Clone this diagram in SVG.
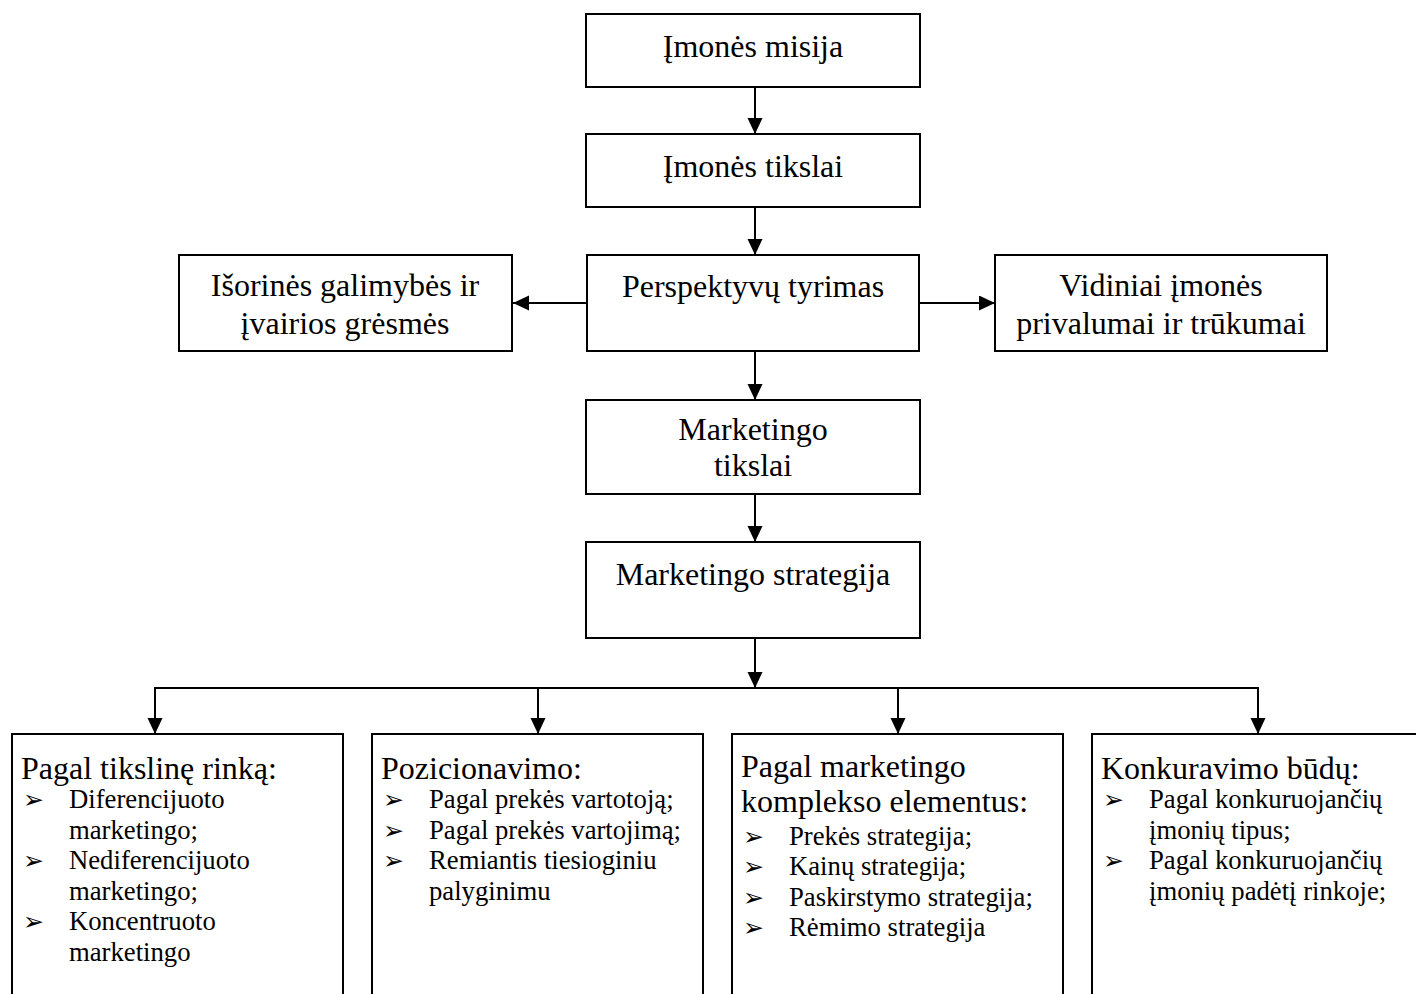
<svg xmlns="http://www.w3.org/2000/svg" width="1416" height="994" viewBox="0 0 1416 994">
  <style>
    .box { fill: #fff; stroke: #000; stroke-width: 2; }
    .t { font-family: "Liberation Serif", "Times New Roman", serif; font-size: 32px; fill: #000; }
    .c { text-anchor: middle; }
    .b { font-family: "Liberation Serif", "Times New Roman", serif; font-size: 26.7px; fill: #000; }
    .mk { font-family: "DejaVu Sans", sans-serif; font-size: 25px; fill: #000; }
    .wire { fill: none; stroke: #000; stroke-width: 2; }
  </style>
  <defs>
    <marker id="arrow" markerUnits="userSpaceOnUse" markerWidth="16" markerHeight="16" refX="16" refY="7.5" orient="auto">
      <path d="M0,0 L16,7.5 L0,15 Z" fill="#000"/>
    </marker>
  </defs>

  <rect width="1416" height="994" fill="#fff"/>

  <g id="connectors">
    <line class="wire" x1="755" y1="87" x2="755" y2="134" marker-end="url(#arrow)"/>
    <line class="wire" x1="755" y1="207" x2="755" y2="255" marker-end="url(#arrow)"/>
    <line class="wire" x1="587" y1="303" x2="513" y2="303" marker-end="url(#arrow)"/>
    <line class="wire" x1="919" y1="303" x2="995" y2="303" marker-end="url(#arrow)"/>
    <line class="wire" x1="755" y1="351" x2="755" y2="400" marker-end="url(#arrow)"/>
    <line class="wire" x1="755" y1="494" x2="755" y2="542" marker-end="url(#arrow)"/>
    <line class="wire" x1="755" y1="638" x2="755" y2="688" marker-end="url(#arrow)"/>
    <line class="wire" x1="154" y1="688" x2="1259" y2="688"/>
    <line class="wire" x1="155" y1="688" x2="155" y2="734" marker-end="url(#arrow)"/>
    <line class="wire" x1="538" y1="688" x2="538" y2="734" marker-end="url(#arrow)"/>
    <line class="wire" x1="898" y1="688" x2="898" y2="734" marker-end="url(#arrow)"/>
    <line class="wire" x1="1258" y1="688" x2="1258" y2="734" marker-end="url(#arrow)"/>
  </g>

  <g id="misija">
    <rect class="box" x="586" y="14" width="334" height="73"/>
    <text class="t c" x="753" y="57">Įmonės misija</text>
  </g>

  <g id="tikslai">
    <rect class="box" x="586" y="134" width="334" height="73"/>
    <text class="t c" x="753" y="177">Įmonės tikslai</text>
  </g>

  <g id="perspektyvos">
    <rect class="box" x="587" y="255" width="332" height="96"/>
    <text class="t c" x="753" y="297">Perspektyvų tyrimas</text>
  </g>

  <g id="isorines">
    <rect class="box" x="179" y="255" width="333" height="96"/>
    <text class="t c" x="345" y="296">Išorinės galimybės ir</text>
    <text class="t c" x="345" y="334">įvairios grėsmės</text>
  </g>

  <g id="vidiniai">
    <rect class="box" x="995" y="255" width="332" height="96"/>
    <text class="t c" x="1161" y="296">Vidiniai įmonės</text>
    <text class="t c" x="1161" y="334">privalumai ir trūkumai</text>
  </g>

  <g id="mkt-tikslai">
    <rect class="box" x="586" y="400" width="334" height="94"/>
    <text class="t c" x="753" y="440">Marketingo</text>
    <text class="t c" x="753" y="476">tikslai</text>
  </g>

  <g id="mkt-strategija">
    <rect class="box" x="586" y="542" width="334" height="96"/>
    <text class="t c" x="753" y="585">Marketingo strategija</text>
  </g>

  <g id="tiksline-rinka">
    <rect class="box" x="12" y="734" width="331" height="280"/>
    <text class="t" x="21" y="779">Pagal tikslinę rinką:</text>
    <text class="mk" x="23" y="808">➢</text>
    <text class="b" x="69" y="808">Diferencijuoto</text>
    <text class="b" x="69" y="839">marketingo;</text>
    <text class="mk" x="23" y="869">➢</text>
    <text class="b" x="69" y="869">Nediferencijuoto</text>
    <text class="b" x="69" y="900">marketingo;</text>
    <text class="mk" x="23" y="930">➢</text>
    <text class="b" x="69" y="930">Koncentruoto</text>
    <text class="b" x="69" y="961">marketingo</text>
  </g>

  <g id="pozicionavimo">
    <rect class="box" x="372" y="734" width="331" height="280"/>
    <text class="t" x="381" y="779">Pozicionavimo:</text>
    <text class="mk" x="383" y="808">➢</text>
    <text class="b" x="429" y="808">Pagal prekės vartotoją;</text>
    <text class="mk" x="383" y="839">➢</text>
    <text class="b" x="429" y="839">Pagal prekės vartojimą;</text>
    <text class="mk" x="383" y="869">➢</text>
    <text class="b" x="429" y="869">Remiantis tiesioginiu</text>
    <text class="b" x="429" y="900">palyginimu</text>
  </g>

  <g id="komplekso">
    <rect class="box" x="732" y="734" width="331" height="280"/>
    <text class="t" x="741" y="777">Pagal marketingo</text>
    <text class="t" x="741" y="812">komplekso elementus:</text>
    <text class="mk" x="743" y="845">➢</text>
    <text class="b" x="789" y="845">Prekės strategija;</text>
    <text class="mk" x="743" y="875">➢</text>
    <text class="b" x="789" y="875">Kainų strategija;</text>
    <text class="mk" x="743" y="906">➢</text>
    <text class="b" x="789" y="906">Paskirstymo strategija;</text>
    <text class="mk" x="743" y="936">➢</text>
    <text class="b" x="789" y="936">Rėmimo strategija</text>
  </g>

  <g id="konkuravimo">
    <rect class="box" x="1092" y="734" width="331" height="280"/>
    <text class="t" x="1101" y="779">Konkuravimo būdų:</text>
    <text class="mk" x="1103" y="808">➢</text>
    <text class="b" x="1149" y="808">Pagal konkuruojančių</text>
    <text class="b" x="1149" y="839">įmonių tipus;</text>
    <text class="mk" x="1103" y="869">➢</text>
    <text class="b" x="1149" y="869">Pagal konkuruojančių</text>
    <text class="b" x="1149" y="900">įmonių padėtį rinkoje;</text>
  </g>
</svg>
